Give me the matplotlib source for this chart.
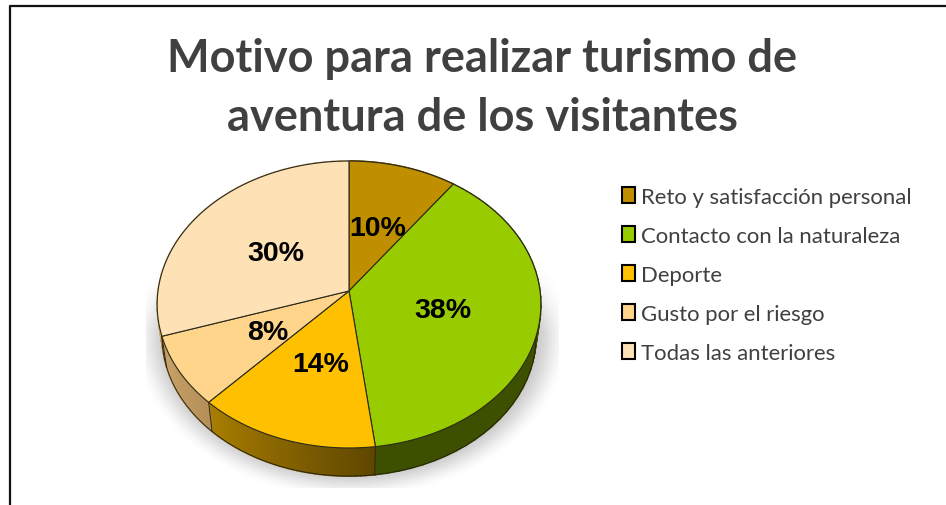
import numpy as np
import matplotlib
matplotlib.use("Agg")
import matplotlib.pyplot as plt
from matplotlib.patches import Polygon, Patch
from matplotlib.colors import to_rgb

title = "Motivo para realizar turismo de\naventura de los visitantes"
categories = ["Reto y satisfacción personal", "Contacto con la naturaleza", "Deporte",
              "Gusto por el riesgo", "Todas las anteriores"]
values = [10, 38, 14, 8, 30]
colors = ["#BF8F00", "#99CC00", "#FFC000", "#FFD58C", "#FFE1B6"]
# side wall colour at the start and the end of each slice
side_start = ["#6B5000", "#3D5000", "#5F4700", "#B48F58", "#C9A468"]
side_end = ["#6B5000", "#3D5000", "#A87E00", "#C9A468", "#C9A468"]
label_pos = [(378, 229), (443, 311), (321, 365), (268, 333), (276, 254)]

# pie drawn in perspective, pixel units
cx, cy = 349, 292
a, b, k = 142.2, 191, 0.0941
depth, shrink = 32, 0.975


def project(theta, scale=1.0, dy=0):
    s, c = np.sin(theta), np.cos(theta)
    den = 1 + k * c
    return cx + scale * b * s / den, cy + dy + scale * (-a * c / den)


def mix(c1, c2, t):
    c1, c2 = np.array(to_rgb(c1)), np.array(to_rgb(c2))
    return tuple(c1 + (c2 - c1) * t)


fig = plt.figure(figsize=(9.46, 5.06), dpi=100)
ax = fig.add_axes([0, 0, 1, 1])

# soft shadow
xx, yy = np.meshgrid(np.arange(146, 558), np.arange(262, 489))
dist = np.sqrt(((xx - 350) / 206) ** 2 + ((yy - 335) / 155) ** 2)
shadow = np.clip((1.0 - dist) / 0.2 + 0.3, 0, 1)
shadow = shadow * shadow * (3 - 2 * shadow)
shadow *= np.clip((yy - 262) / 70, 0, 1)
rgba = np.zeros(xx.shape + (4,))
rgba[..., :3] = 0.45
rgba[..., 3] = shadow * 0.42
ax.imshow(rgba, extent=(146, 558, 489, 262), zorder=1, interpolation="bilinear")

edges = np.cumsum([0] + values) / sum(values) * 2 * np.pi

# side walls first, then the top face
for i in range(len(values)):
    th = np.linspace(edges[i], edges[i + 1], 40)
    tx, ty = project(th)
    bx, by = project(th, shrink, depth)
    for j in range(len(th) - 1):
        t = j / (len(th) - 2)
        c = mix(side_start[i], side_end[i], t)
        ax.add_patch(Polygon([(tx[j], ty[j]), (tx[j + 1], ty[j + 1]), (bx[j + 1], by[j + 1]), (bx[j], by[j])],
                             facecolor=c, edgecolor=c, linewidth=1.2, zorder=2))
    ax.plot(bx, by, color="#2b2410", linewidth=0.7, zorder=3)
    ax.plot([tx[0], bx[0]], [ty[0], by[0]], color="#2b2410", linewidth=0.7, zorder=3)

for i in range(len(values)):
    th = np.linspace(edges[i], edges[i + 1], 120)
    tx, ty = project(th)
    pts = [(cx, cy)] + list(zip(tx, ty))
    ax.add_patch(Polygon(pts, facecolor=colors[i], edgecolor="#2a2a1a", linewidth=0.8, zorder=4))

for i in range(len(values)):
    ax.text(label_pos[i][0], label_pos[i][1], "%d%%" % values[i], ha="center", va="center",
            fontsize=20.5, fontweight="bold", family="Liberation Sans", color="black", zorder=6)

ax.text(482, 88, title, ha="center", va="center", fontsize=32.5, fontweight="bold", family="Lato",
        color="#404040", linespacing=1.5)

handles = [Patch(facecolor=c, edgecolor="black", linewidth=1.5) for c in colors]
ax.legend(handles, categories, loc="upper left", bbox_to_anchor=(622, 188), bbox_transform=ax.transData,
          frameon=False, labelcolor="#404040", prop={"family": "Lato", "size": 15.9},
          handlelength=0.6, handleheight=0.72, handletextpad=0.28, labelspacing=0.855,
          borderpad=0, borderaxespad=0)

# border of the pasted chart
ax.plot([9.5, 9.5, 946], [506, 7, 7], color="#111111", linewidth=1.6, zorder=7, clip_on=False)

ax.set_xlim(0, 946)
ax.set_ylim(506, 0)
ax.set_aspect("auto")
ax.axis("off")

fig.savefig("out.png", dpi=100)
